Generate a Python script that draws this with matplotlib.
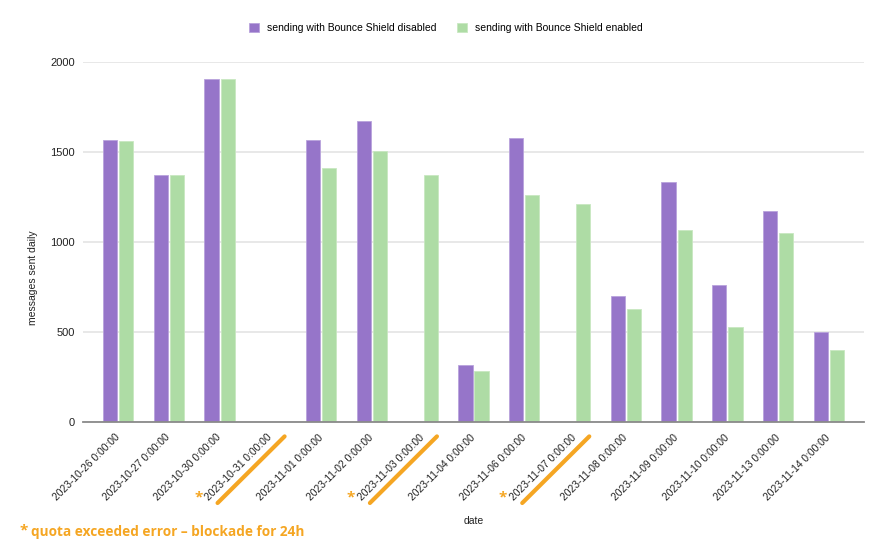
import numpy as np
import matplotlib.pyplot as plt

# data
dates = ["2023-10-26 0:00:00", "2023-10-27 0:00:00", "2023-10-30 0:00:00",
         "2023-10-31 0:00:00", "2023-11-01 0:00:00", "2023-11-02 0:00:00",
         "2023-11-03 0:00:00", "2023-11-04 0:00:00", "2023-11-06 0:00:00",
         "2023-11-07 0:00:00", "2023-11-08 0:00:00", "2023-11-09 0:00:00",
         "2023-11-10 0:00:00", "2023-11-13 0:00:00", "2023-11-14 0:00:00"]
disabled = [1565, 1370, 1903, 0, 1568, 1670, 0, 315, 1580, 0, 700, 1336, 760, 1172, 500]
enabled = [1563, 1370, 1903, 0, 1410, 1505, 1375, 285, 1260, 1210, 630, 1065, 530, 1050, 400]
blocked = ["2023-10-31 0:00:00", "2023-11-03 0:00:00", "2023-11-07 0:00:00"]

purple = "#9675c9"
green = "#aedca5"
orange = "#f5a623"

plt.rcParams['font.family'] = ['Liberation Sans', 'DejaVu Sans']

fig = plt.figure(figsize=(8.89, 5.5), dpi=100)
ax = fig.add_axes([83/889, 1-422/550, 781/889, 360/550])

x = np.arange(len(dates))
w = 0.28
ax.bar(x - 0.158, disabled, w, color=purple, edgecolor="#b9a3dc", linewidth=0.6,
       label="sending with Bounce Shield disabled", zorder=3)
ax.bar(x + 0.158, enabled, w, color=green, edgecolor="#c8e8c1", linewidth=0.6,
       label="sending with Bounce Shield enabled", zorder=3)

ax.set_xlim(-0.69, len(dates) - 1 + 0.69)
ax.set_ylim(0, 2000)
ax.set_yticks([0, 500, 1000, 1500, 2000])
ax.yaxis.grid(True, color="#e2e2e2", linewidth=1.1, zorder=0)
ax.set_axisbelow(True)
for s in ["top", "right", "left"]:
    ax.spines[s].set_visible(False)
ax.spines["bottom"].set_color("#8a8a8a")
ax.spines["bottom"].set_linewidth(1.3)
ax.spines["bottom"].set_zorder(4)

ax.set_xticks(x)
ax.set_xticklabels(dates, rotation=45, ha="right", va="center",
                   rotation_mode="anchor", fontsize=7.4, color="#222222")
ax.tick_params(axis="x", length=0, pad=10)
ax.tick_params(axis="y", length=0, pad=6, labelsize=8, labelcolor="#222222")

ax.set_ylabel("messages sent daily", fontsize=7.5, color="#222222")
ax.yaxis.set_label_coords(-0.057, 0.4)
ax.set_xlabel("date", fontsize=7.5, color="#222222")
ax.xaxis.set_label_coords(0.5, -0.26)

ax.legend(loc="lower center", bbox_to_anchor=(0.465, 1.055), ncol=2, frameon=False,
          fontsize=7.5, handlelength=0.9, handleheight=0.9, columnspacing=2.0,
          handletextpad=0.8)

# strike-through marks on blocked days
tr = ax.get_xaxis_transform()
for d in blocked:
    i = dates.index(d)
    ax.plot([i - 1.04, i + 0.28], [-0.225, -0.04], color=orange, lw=3,
            solid_capstyle="round", transform=tr, clip_on=False, zorder=5)
    ax.text(i - 1.42, -0.21, "*", color=orange, fontsize=11, fontweight="bold",
            ha="center", va="center", transform=tr, family="Open Sans")

fig.text(20/889, 1-530/550, "*", color=orange, fontsize=11, fontweight="bold",
         ha="left", va="center", family="Open Sans")
fig.text(31/889, 1-532/550, "quota exceeded error – blockade for 24h", color=orange,
         fontsize=9.8, fontweight="bold", ha="left", va="center", family="Open Sans")

fig.savefig("out.png", dpi=100)
